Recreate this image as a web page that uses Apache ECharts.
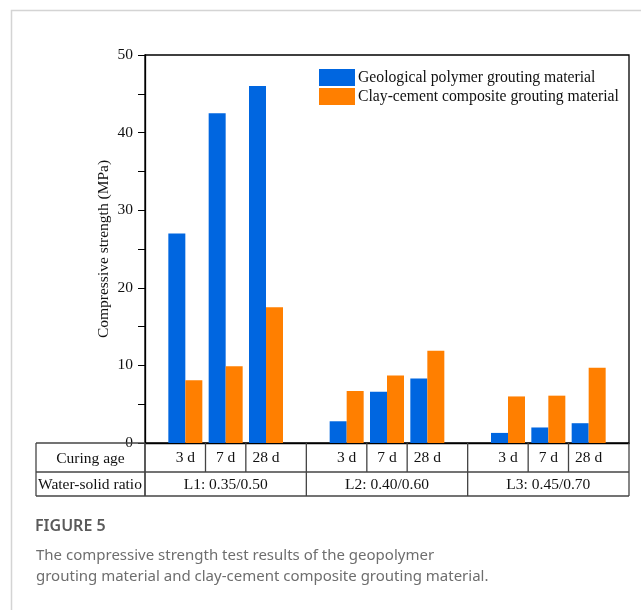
<!DOCTYPE html>
<html><head><meta charset="utf-8">
<script src="https://cdn.jsdelivr.net/npm/echarts@6/dist/echarts.min.js"></script>
<style>html,body{margin:0;padding:0;background:#fff}#c{width:641px;height:610px}</style>
</head><body><div id="c"></div>
<script>
// ---- data ----
var groups = ['L1: 0.35/0.50', 'L2: 0.40/0.60', 'L3: 0.45/0.70'];
var ages = ['3 d', '7 d', '28 d'];
var seriesNames = ['Geological polymer grouting material', 'Clay-cement composite grouting material'];
var geoValues = [27.0, 42.5, 46.0, 2.8, 6.6, 8.3, 1.3, 2.0, 2.55];
var clayValues = [8.1, 9.9, 17.5, 6.7, 8.7, 11.9, 6.0, 6.1, 9.7];
var yTicks = [0, 10, 20, 30, 40, 50];
var rowLabels = ['Curing age', 'Water-solid ratio'];
var captionTitle = 'FIGURE 5';
var captionLines = ['The compressive strength test results of the geopolymer',
                    'grouting material and clay-cement composite grouting material.'];

// build categories: blank slot, 3 ages per group, blank slot between groups
var cats = [], geo = [], clay = [];
function pushBlank(k){ cats.push('blank' + k); geo.push('-'); clay.push('-'); }
pushBlank(0);
for (var g = 0; g < groups.length; g++) {
  for (var a = 0; a < ages.length; a++) {
    cats.push(g + '|' + ages[a]);
    geo.push(geoValues[g * 3 + a]);
    clay.push(clayValues[g * 3 + a]);
  }
  pushBlank(g + 1);
}

var serif = '"Liberation Serif", "Times New Roman", serif';
var chart = echarts.init(document.getElementById('c'), null, {renderer: 'canvas'});
var option = {
  backgroundColor: '#fff',
  animation: false,
  grid: {left: 145, top: 55, right: 12, bottom: 167, show: true, borderColor: '#000', borderWidth: 1.3, backgroundColor: 'transparent'},
  legend: {
    orient: 'vertical', left: 314, top: 64, itemWidth: 36, itemHeight: 17, itemGap: 2,
    icon: 'rect',
    textStyle: {fontFamily: serif, fontSize: 15.7, color: '#111', padding: [0,0,0,-2]},
    data: seriesNames
  },
  xAxis: {
    type: 'category', data: cats, boundaryGap: false,
    axisLine: {show: true, lineStyle: {color: '#000', width: 1.3}},
    axisTick: {show: false},
    axisLabel: {
      interval: 0, margin: 7, fontFamily: serif, fontSize: 15.5, color: '#111',
      formatter: function (v) { return v.indexOf('|') >= 0 ? v.split('|')[1] : ''; }
    },
    splitLine: {show: false}
  },
  yAxis: {
    type: 'value', min: yTicks[0], max: yTicks[yTicks.length - 1], interval: yTicks[1] - yTicks[0],
    name: 'Compressive strength (MPa)', nameLocation: 'middle', nameGap: 33, nameMoveOverlap: false,
    nameTextStyle: {fontFamily: serif, fontSize: 15.5, color: '#111'},
    axisLine: {show: true, lineStyle: {color: '#000', width: 1.3}},
    axisTick: {show: true, length: 7, lineStyle: {color: '#000', width: 1}},
    minorTick: {show: true, splitNumber: 2, length: 7, lineStyle: {color: '#000', width: 1}},
    axisLabel: {margin: 12, fontFamily: serif, fontSize: 15.5, color: '#111', padding: [0, 0, 12, 0]},
    splitLine: {show: false}
  },
  series: [
    {name: seriesNames[0], type: 'bar', data: geo, barWidth: 17, barGap: '0%', itemStyle: {color: '#0066e0'}},
    {name: seriesNames[1], type: 'bar', data: clay, barWidth: 17, barGap: '0%', itemStyle: {color: '#ff7f00'}}
  ]
};
chart.setOption(option);

// ---- table & caption graphics, positioned through the axis scale ----
function px(i) { return chart.convertToPixel({xAxisIndex: 0}, i); }
var y0 = chart.convertToPixel({yAxisIndex: 0}, 0);
var rowH1 = 29, rowH2 = 24;
var yMid = y0 + rowH1, yBot = yMid + rowH2;
var tableLeft = 36;
var xLeft = px(0), xRight = px(cats.length - 1);
var lineStyle = {stroke: '#444', lineWidth: 1.3};
var els = [];
// frame
els.push({type: 'polyline', shape: {points: [[11.5, 610], [11.5, 10.5], [641, 10.5]]}, style: {stroke: '#d4d4d4', lineWidth: 1.5, fill: null}, z: 1});
// row label texts
els.push({type: 'text', x: (tableLeft + xLeft) / 2, y: (y0 + yMid) / 2 + 1, style: {text: rowLabels[0], font: '15.5px ' + serif, fill: '#111', align: 'center', verticalAlign: 'middle'}, z: 10});
els.push({type: 'text', x: tableLeft + 2, y: (yMid + yBot) / 2 + 1, style: {text: rowLabels[1], font: '15.5px ' + serif, fill: '#111', align: 'left', verticalAlign: 'middle'}, z: 10});
// cover overflow of the clipped label
els.push({type: 'rect', shape: {x: xLeft + 1, y: yMid + 1, width: 40, height: rowH2 - 2}, style: {fill: '#fff'}, z: 11});
// group labels
for (var g = 0; g < groups.length; g++) {
  els.push({type: 'text', x: px(g * 4 + 2), y: (yMid + yBot) / 2 + 1, style: {text: groups[g], font: '15.5px ' + serif, fill: '#111', align: 'center', verticalAlign: 'middle'}, z: 12});
}
// horizontal lines
els.push({type: 'line', shape: {x1: tableLeft, y1: y0, x2: xLeft, y2: y0}, style: lineStyle, z: 12});
els.push({type: 'line', shape: {x1: tableLeft, y1: yMid, x2: xRight, y2: yMid}, style: lineStyle, z: 12});
els.push({type: 'line', shape: {x1: tableLeft, y1: yBot, x2: xRight, y2: yBot}, style: lineStyle, z: 12});
// full-height verticals
var fullX = [tableLeft, xLeft];
for (var g = 0; g <= groups.length; g++) fullX.push(px(g * 4));
fullX.forEach(function (x) {
  els.push({type: 'line', shape: {x1: x, y1: y0, x2: x, y2: yBot}, style: lineStyle, z: 12});
});
// sub-column separators (first row only)
for (var g = 0; g < groups.length; g++) {
  for (var a = 1; a < ages.length; a++) {
    var x = (px(g * 4 + a) + px(g * 4 + a + 1)) / 2;
    els.push({type: 'line', shape: {x1: x, y1: y0, x2: x, y2: yMid}, style: lineStyle, z: 12});
  }
}
// caption
els.push({type: 'text', x: 35, y: 518, style: {text: captionTitle, font: '600 16px "Noto Sans", sans-serif', fill: '#5a5a5a'}, z: 10});
els.push({type: 'text', x: 36, y: 548, style: {text: captionLines[0], font: '15px "Noto Sans", sans-serif', fill: '#6e6e6e'}, z: 10});
els.push({type: 'text', x: 36, y: 569, style: {text: captionLines[1], font: '15px "Noto Sans", sans-serif', fill: '#6e6e6e'}, z: 10});
chart.setOption({graphic: {elements: els}});
</script>
</body></html>
